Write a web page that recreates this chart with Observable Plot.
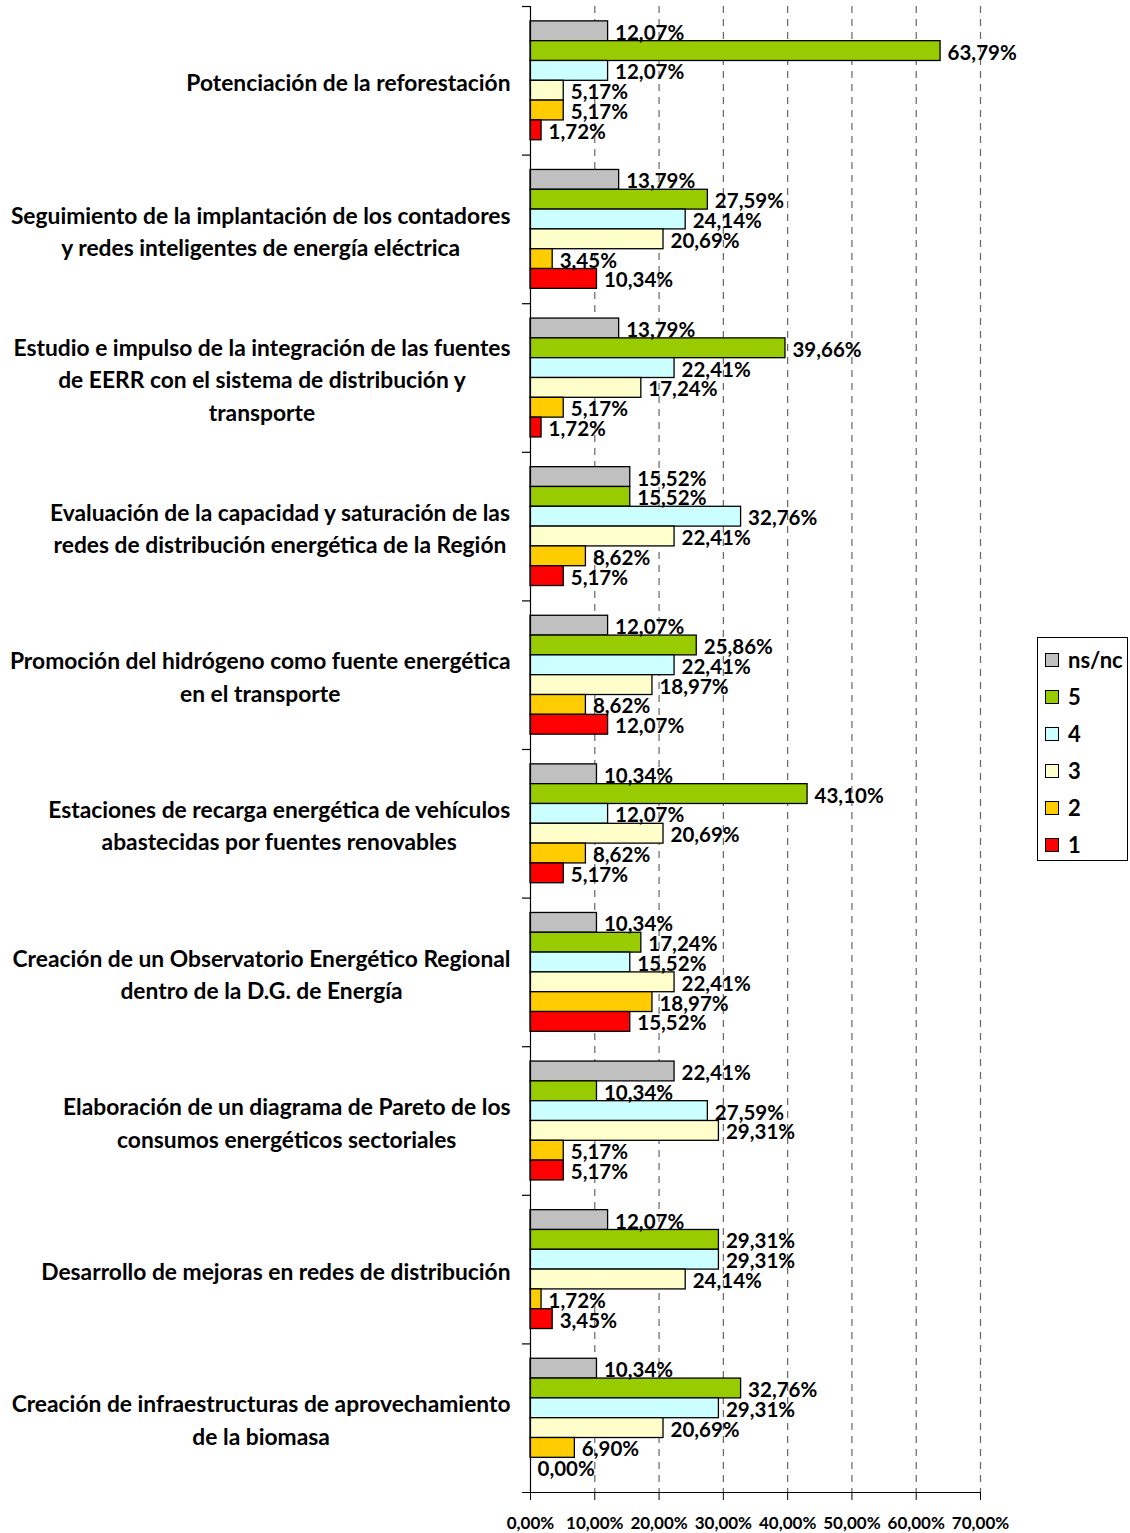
<!DOCTYPE html>
<html><head><meta charset="utf-8">
<script src="https://cdn.jsdelivr.net/npm/d3@7"></script>
<script src="https://cdn.jsdelivr.net/npm/@observablehq/plot@0.6"></script>
<style>
body{margin:0;background:#fff;font-family:Lato, sans-serif;}
#wrap{position:relative;width:1130px;height:1533px;}
#legend{position:absolute;left:1037px;top:637px;width:91px;height:224px;border:1px solid #000;box-sizing:border-box;background:#fff;}
.item{position:absolute;left:7px;display:flex;align-items:center;font-weight:bold;font-size:22px;line-height:22px;height:22px;}
.sw{width:14px;height:14px;border:1.3px solid #000;margin-right:9px;box-sizing:border-box;}
</style></head><body><div id="wrap"></div>
<script>
const categories = [
  "Potenciación de la reforestación",
  "Seguimiento de la implantación de los contadores\ny redes inteligentes de energía eléctrica",
  "Estudio e impulso de la integración de las fuentes\nde EERR con el sistema de distribución y\ntransporte",
  "Evaluación de la capacidad y saturación de las\nredes de distribución energética de la Región",
  "Promoción del hidrógeno como fuente energética\nen el transporte",
  "Estaciones de recarga energética de vehículos\nabastecidas por fuentes renovables",
  "Creación de un Observatorio Energético Regional\ndentro de la D.G. de Energía",
  "Elaboración de un diagrama de Pareto de los\nconsumos energéticos sectoriales",
  "Desarrollo de mejoras en redes de distribución",
  "Creación de infraestructuras de aprovechamiento\nde la biomasa"
];
const series = ["ns/nc", "5", "4", "3", "2", "1"];
const colors = ["#C0C0C0", "#99CC00", "#CCFFFF", "#FFFFCC", "#FFCC00", "#FF0000"];
const valuesNsnc = [12.07, 13.79, 13.79, 15.52, 12.07, 10.34, 10.34, 22.41, 12.07, 10.34];
const values5    = [63.79, 27.59, 39.66, 15.52, 25.86, 43.10, 17.24, 10.34, 29.31, 32.76];
const values4    = [12.07, 24.14, 22.41, 32.76, 22.41, 12.07, 15.52, 27.59, 29.31, 29.31];
const values3    = [5.17, 20.69, 17.24, 22.41, 18.97, 20.69, 22.41, 29.31, 24.14, 20.69];
const values2    = [5.17, 3.45, 5.17, 8.62, 8.62, 8.62, 18.97, 5.17, 1.72, 6.90];
const values1    = [1.72, 10.34, 1.72, 5.17, 12.07, 5.17, 15.52, 5.17, 3.45, 0.00];
const xTicks = [0, 10, 20, 30, 40, 50, 60, 70];

const seriesValues = [valuesNsnc, values5, values4, values3, values2, values1];
const fmt = v => v.toFixed(2).replace(".", ",") + "%";
const barW = 0.8 / series.length;
const rows = [];
seriesValues.forEach((vals, j) => vals.forEach((v, i) => rows.push({
  cat: categories[i], series: series[j], value: v,
  y1: i + 0.1 + j * barW, y2: i + 0.1 + (j + 1) * barW
})));

const FONT = "Lato";
const catSize = 22.8;
const ctx = document.createElement("canvas").getContext("2d");
ctx.font = `bold ${catSize}px ${FONT}`;
const catMarks = categories.map((c, i) => {
  const w = d3.max(c.split("\n"), l => ctx.measureText(l).width);
  return Plot.text([{label: c, y: i + 0.5}], {
    x: d => 0, y: "y", text: "label", textAnchor: "middle", lineAnchor: "middle",
    lineHeight: 1.42, dx: -(20 + w / 2), fontSize: catSize, fontWeight: "bold", fill: "#000"
  });
});

const chart = Plot.plot({
  width: 1130, height: 1533,
  marginLeft: 530, marginRight: 150, marginTop: 6, marginBottom: 41,
  style: {fontFamily: FONT, background: "#fff", color: "#000"},
  x: {type: "linear", domain: [0, 70], label: null},
  y: {type: "linear", domain: [0, categories.length], reverse: true, axis: null},
  color: {domain: series, range: colors},
  marks: [
    Plot.ruleX(xTicks.slice(1), {stroke: "#666", strokeDasharray: "7,6", strokeWidth: 1.2}),
    Plot.rect(rows, {x1: d => 0, x2: "value", y1: "y1", y2: "y2", fill: "series", stroke: "#000", strokeWidth: 1.3}),
    Plot.text(rows, {x: "value", y: d => (d.y1 + d.y2) / 2, text: d => fmt(d.value), textAnchor: "start",
      dx: 7, dy: 2, fontSize: 20.5, fontWeight: "bold", fill: "#000"}),
    Plot.ruleX([0], {stroke: "#000", strokeWidth: 1.2}),
    Plot.ruleY(d3.range(categories.length), {x1: -1.25, x2: 0, stroke: "#000", strokeWidth: 1.2}),
    Plot.ruleY([categories.length], {x1: -1.25, x2: 70, stroke: "#000", strokeWidth: 1.2}),
    Plot.axisX({ticks: xTicks, tickSize: 8, tickPadding: 16, tickFormat: fmt, fontSize: 17, fontWeight: "bold", label: null}),
    ...catMarks
  ]
});
const wrap = document.getElementById("wrap");
wrap.appendChild(chart);

const legend = document.createElement("div");
legend.id = "legend";
series.forEach((s, j) => {
  const it = document.createElement("div");
  it.className = "item";
  it.style.top = (11 + j * 37) + "px";
  const sw = document.createElement("div");
  sw.className = "sw";
  sw.style.background = colors[j];
  const t = document.createElement("span");
  t.textContent = s;
  it.appendChild(sw); it.appendChild(t);
  legend.appendChild(it);
});
wrap.appendChild(legend);
</script></body></html>
